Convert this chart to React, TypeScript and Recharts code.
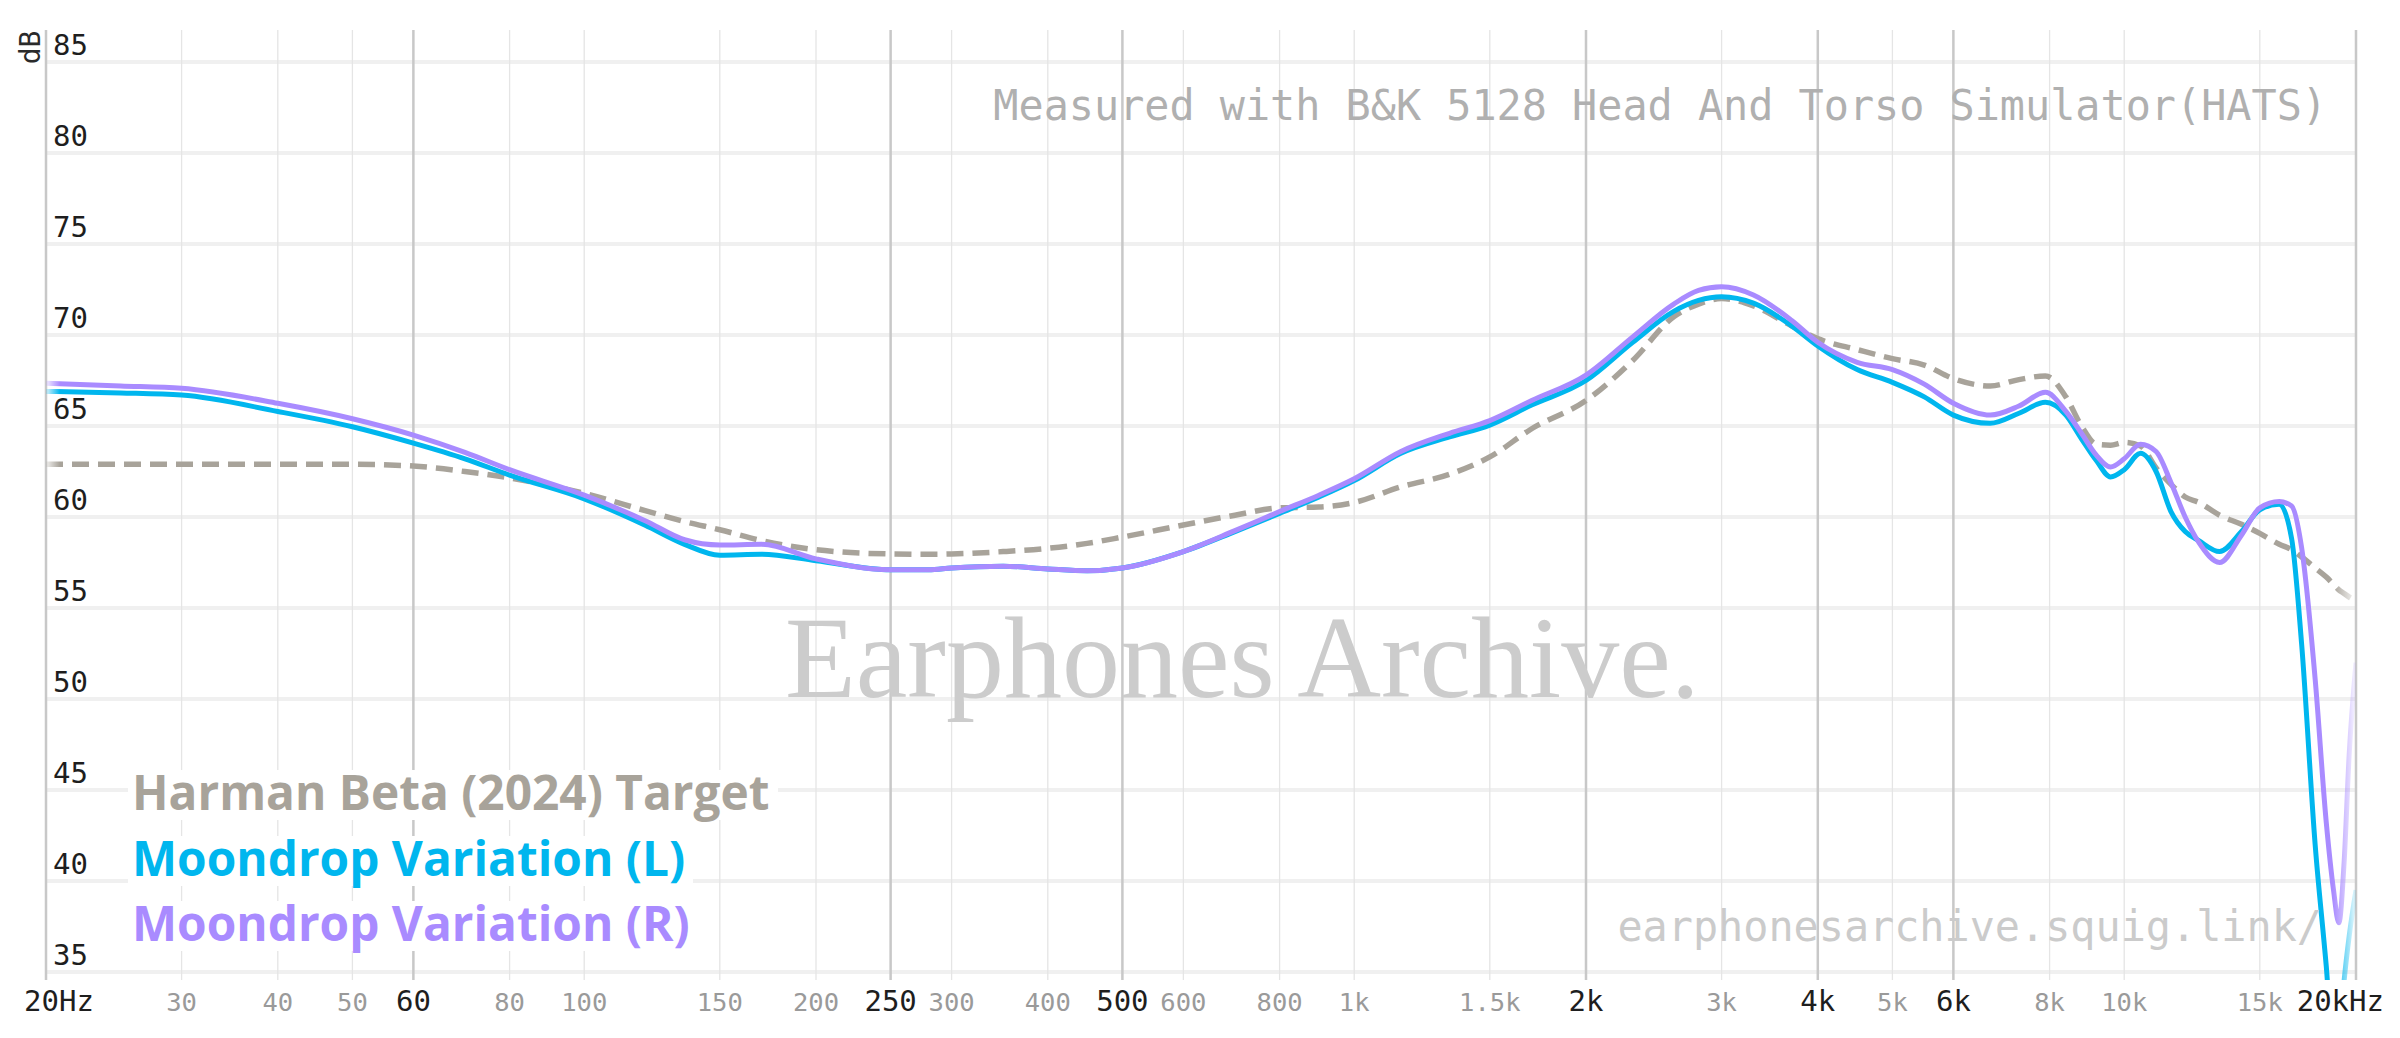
import React from 'react';
import { LineChart, Line, XAxis, YAxis, ReferenceLine } from 'recharts';

// Frequency grid (Hz) shared by all three curves
const freqs = [
  20, 25, 30, 40, 50, 60, 70, 80, 100, 120,
  135, 150, 170, 200, 250, 280, 300, 350, 400, 450,
  500, 600, 700, 800, 900, 1000, 1150, 1330, 1500, 1700,
  2000, 2300, 2600, 2800, 3000, 3300, 3700, 4000, 4500, 5000,
  5500, 6000, 6700, 7300, 7900, 8400, 8800, 9200, 9600, 10000,
  10500, 11000, 11500, 12000, 12500, 13300, 14200, 15000, 15900, 16500,
  17000, 17700, 18300, 18700, 19000, 19300, 19600, 20000,
];

// Harman Beta (2024) target, dB SPL
const targetDb = [
  62.9, 62.9, 62.9, 62.9, 62.9, 62.8, 62.5, 62.15, 61.3, 60.35,
  59.75, 59.3, 58.7, 58.2, 57.97, 57.95, 57.97, 58.1, 58.28, 58.55,
  58.9, 59.56, 60.1, 60.5, 60.55, 60.8, 61.66, 62.35, 63.3, 64.85,
  66.4, 68.6, 71.0, 71.7, 72.0, 71.6, 70.5, 69.8, 69.2, 68.7,
  68.35, 67.6, 67.2, 67.55, 67.75, 66.6, 65.0, 64.0, 63.95, 64.1,
  63.9, 62.7, 61.8, 61.1, 60.8, 60.1, 59.6, 59.1, 58.5, 58.2,
  57.8, 57.2, 56.7, 56.3, 56.0, 55.8, 55.6, 55.4,
];

// Moondrop Variation, left channel
const leftDb = [
  66.9, 66.82, 66.7, 65.8, 64.96, 64.06, 63.2, 62.3, 61.0, 59.55,
  58.5, 57.9, 57.95, 57.6, 57.1, 57.1, 57.2, 57.3, 57.15, 57.05,
  57.2, 58.1, 59.2, 60.2, 61.1, 62.0, 63.5, 64.4, 65.05, 66.15,
  67.5, 69.6, 71.3, 71.9, 72.1, 71.75, 70.5, 69.4, 68.1, 67.4,
  66.6, 65.6, 65.15, 65.7, 66.3, 65.6, 64.3, 63.1, 62.2, 62.6,
  63.5, 62.5, 60.3, 59.2, 58.7, 58.1, 59.2, 60.4, 60.7, 58.8,
  53.0, 42.0, 35.3, 30.5, 31.0, 34.5, 37.0, 39.5,
];

// Moondrop Variation, right channel
const rightDb = [
  67.35, 67.2, 67.07, 66.25, 65.4, 64.5, 63.55, 62.6, 61.2, 59.8,
  58.75, 58.46, 58.5, 57.7, 57.1, 57.1, 57.2, 57.3, 57.15, 57.05,
  57.2, 58.1, 59.25, 60.3, 61.2, 62.1, 63.6, 64.6, 65.3, 66.4,
  67.8, 69.9, 71.7, 72.45, 72.65, 72.2, 70.8, 69.6, 68.5, 68.1,
  67.3, 66.25, 65.6, 66.1, 66.85, 65.8, 64.6, 63.4, 62.75, 63.2,
  64.0, 63.6, 61.9, 60.0, 58.6, 57.5, 59.0, 60.5, 60.85, 60.6,
  58.3, 51.1, 43.2, 39.5, 37.7, 41.0, 47.0, 52.0,
];

const xTicks = [20, 30, 40, 50, 60, 80, 100, 150, 200, 250, 300, 400, 500, 600, 800, 1000, 1500, 2000, 3000, 4000, 5000, 6000, 8000, 10000, 15000, 20000];
const xTickLabels = ['20Hz', '30', '40', '50', '60', '80', '100', '150', '200', '250', '300', '400', '500', '600', '800', '1k', '1.5k', '2k', '3k', '4k', '5k', '6k', '8k', '10k', '15k', '20kHz'];
const majorTicks = [20, 60, 250, 500, 2000, 4000, 6000, 20000];
const yTicks = [35, 40, 45, 50, 55, 60, 65, 70, 75, 80, 85];

const seriesKeys = ['target', 'left', 'right'];
const seriesNames = ['Harman Beta (2024) Target', 'Moondrop Variation (L)', 'Moondrop Variation (R)'];
const seriesColors = ['#a8a39a', '#00b6ee', '#a98bff'];

const data = freqs.map((f, i) => ({
  freq: f,
  target: targetDb[i],
  left: leftDb[i],
  right: rightDb[i],
}));

const MONO = '"DejaVu Sans Mono", monospace';

const XTick = (props: any) => {
  const { x, y, payload } = props;
  const f = payload.value;
  const i = xTicks.indexOf(f);
  const major = majorTicks.includes(f);
  let anchor: 'start' | 'middle' | 'end' = 'middle';
  let dx = 0;
  if (i === 0) { anchor = 'start'; dx = -22; }
  if (i === xTicks.length - 1) { anchor = 'end'; dx = 28; }
  return (
    <text
      x={x + dx}
      y={y + 31}
      textAnchor={anchor}
      fill={major ? '#1e1e1e' : '#9a9a9a'}
      fontSize={major ? 29 : 25.5}
      fontFamily={MONO}
    >
      {xTickLabels[i]}
    </text>
  );
};

const YLabel = (props: any) => {
  const { viewBox, value } = props;
  if (!viewBox) return null;
  return (
    <text x={viewBox.x + 7} y={viewBox.y - 7} fill="#1e1e1e" fontSize={29} fontFamily={MONO}>
      {value}
    </text>
  );
};

const legendBoxes = [
  { y: 770, w: 650, base: 810 },
  { y: 836, w: 565, base: 876 },
  { y: 901, w: 575, base: 941 },
];

export default function App() {
  return (
    <div style={{ position: 'absolute', left: 0, top: 0, width: 2400, height: 1038, background: '#ffffff' }}>
      <LineChart
        width={2400}
        height={1038}
        data={data}
        margin={{ top: 30, right: 44, bottom: 0, left: 46 }}
      >
        <defs>
          {seriesKeys.map((k, i) => (
            <linearGradient key={k} id={`fade-${k}`} x1="0" y1="0" x2="1" y2="0">
              <stop offset="0" stopColor={seriesColors[i]} stopOpacity={0.15} />
              <stop offset="0.006" stopColor={seriesColors[i]} stopOpacity={1} />
              <stop offset="0.99" stopColor={seriesColors[i]} stopOpacity={1} />
              <stop offset="1" stopColor={seriesColors[i]} stopOpacity={0.08} />
            </linearGradient>
          ))}
        </defs>
        <XAxis
          dataKey="freq"
          type="number"
          scale="log"
          domain={[20, 20000]}
          ticks={xTicks}
          interval={0}
          allowDataOverflow
          height={58}
          axisLine={false}
          tickLine={false}
          tickSize={0}
          tickMargin={0}
          tick={<XTick />}
        />
        <YAxis hide type="number" domain={[34.56, 86.76]} allowDataOverflow />
        {yTicks.map((v) => (
          <ReferenceLine
            key={`h${v}`}
            y={v}
            stroke="#f0f0f0"
            strokeWidth={4}
            label={<YLabel value={v} />}
          />
        ))}
        {xTicks.map((f) => {
          const major = majorTicks.includes(f);
          return (
            <ReferenceLine
              key={`v${f}`}
              x={f}
              stroke={major ? '#c8c8c8' : '#e5e5e5'}
              strokeWidth={major ? 2.5 : 1.3}
            />
          );
        })}
        <Line
          dataKey="target"
          type="monotone"
          stroke="url(#fade-target)"
          strokeWidth={5.5}
          strokeDasharray="17 9"
          dot={false}
          activeDot={false}
          isAnimationActive={false}
        />
        <Line
          dataKey="left"
          type="monotone"
          stroke="url(#fade-left)"
          strokeWidth={5}
          dot={false}
          activeDot={false}
          isAnimationActive={false}
        />
        <Line
          dataKey="right"
          type="monotone"
          stroke="url(#fade-right)"
          strokeWidth={5}
          dot={false}
          activeDot={false}
          isAnimationActive={false}
        />
      </LineChart>
      <svg
        width={2400}
        height={1038}
        style={{ position: 'absolute', left: 0, top: 0, pointerEvents: 'none' }}
      >
        <text
          x={40}
          y={47.5}
          transform="rotate(-90 40 47.5)"
          textAnchor="middle"
          fill="#2a2a2a"
          fontSize={28}
          fontFamily={MONO}
        >
          dB
        </text>
        <text x={2327} y={120} textAnchor="end" fill="#b0b0b0" fontSize={41.8} fontFamily={MONO}>
          Measured with B&amp;K 5128 Head And Torso Simulator(HATS)
        </text>
        <text x={2322} y={941} textAnchor="end" fill="#cbcbcb" fontSize={41.8} fontFamily={MONO}>
          earphonesarchive.squig.link/
        </text>
        <text x={785} y={697} fill="#cccccc" fontSize={116} fontFamily='"Liberation Serif", serif'>
          Earphones Archive.
        </text>
        {seriesNames.map((name, i) => (
          <g key={name}>
            <rect x={128} y={legendBoxes[i].y} width={legendBoxes[i].w} height={50} fill="#ffffff" />
            <text
              x={132}
              y={legendBoxes[i].base}
              fill={seriesColors[i]}
              fontSize={47.8}
              fontWeight={700}
              fontFamily='"Open Sans", sans-serif'
            >
              {name}
            </text>
          </g>
        ))}
      </svg>
    </div>
  );
}
